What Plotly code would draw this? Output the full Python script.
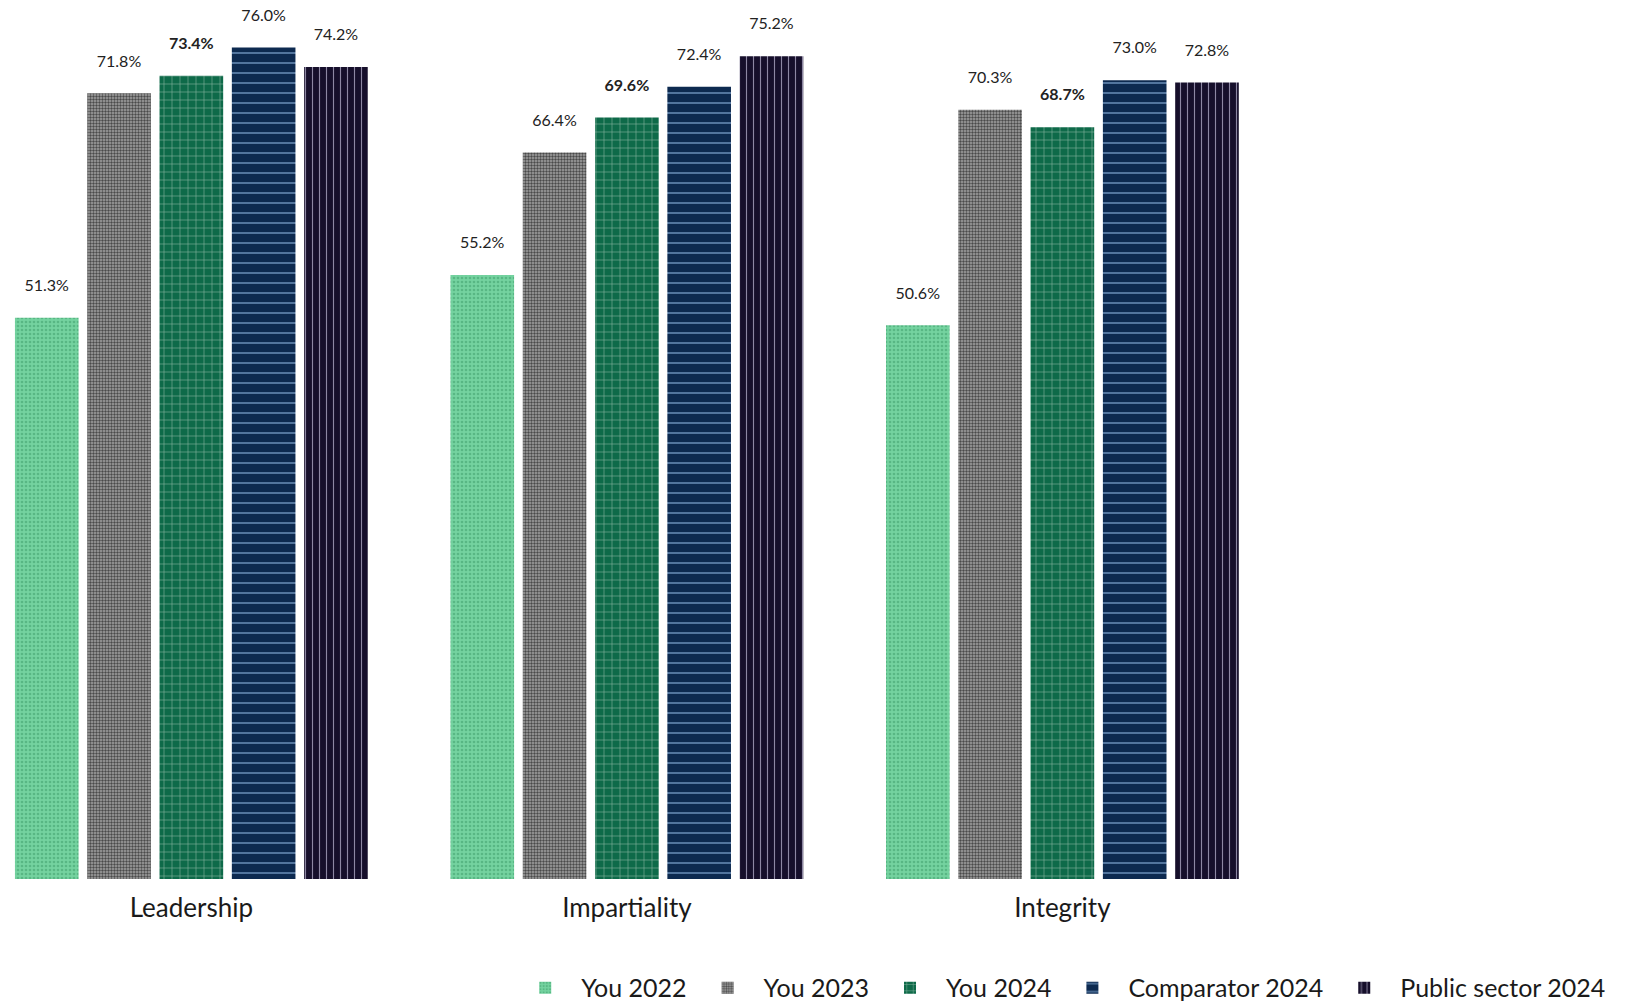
import plotly.graph_objects as go

# Categorias e series
categories = ["Leadership", "Impartiality", "Integrity"]
series_names = ["You 2022", "You 2023", "You 2024", "Comparator 2024", "Public sector 2024"]
you_2022 = [51.3, 55.2, 50.6]
you_2023 = [71.8, 66.4, 70.3]
you_2024 = [73.4, 69.6, 68.7]
comparator_2024 = [76.0, 72.4, 73.0]
public_sector_2024 = [74.2, 75.2, 72.8]
valores = [you_2022, you_2023, you_2024, comparator_2024, public_sector_2024]

# estilo de cada serie (fundo, cor do padrao, forma, tamanho, solidez)
estilos = [
    ("#74d3a0", "#58b784", ".", 4, 0.35),
    ("#a3a3a3", "#4a4a4a", ".", 3, 0.5),
    ("#0e6a49", "#85b39f", "+", 8, 0.14),
    ("#0d2a50", "#7096c0", "-", 10, 0.14),
    ("#160f2b", "#8d87a3", "|", 7, 0.16),
]

fig = go.Figure()
for i, (nome, vals) in enumerate(zip(series_names, valores)):
    bg, fg, shape, size, sol = estilos[i]
    label = "<b>%{y:.1f}%</b><br> " if nome == "You 2024" else "%{y:.1f}%<br> "
    fig.add_trace(go.Bar(
        x=categories, y=vals, name=nome,
        marker=dict(color=bg, line_width=0,
                    pattern=dict(shape=shape, bgcolor=bg, fgcolor=fg,
                                 size=size, solidity=sol, fillmode="replace")),
        texttemplate=label, textposition="outside", cliponaxis=False,
        textfont=dict(size=16, color="#222222"),
        hoverinfo="skip",
    ))

fig.update_layout(
    width=1638, height=1004,
    margin=dict(l=0, r=0, t=0, b=133),
    barmode="group", bargap=0.17, bargroupgap=0.12,
    plot_bgcolor="white", paper_bgcolor="white",
    font=dict(family="Lato, Noto Sans, sans-serif", color="#1a1a1a"),
    showlegend=True,
    legend=dict(orientation="h", x=0.306, xanchor="left", y=-0.125, yanchor="middle",
                font=dict(size=25), itemwidth=62, traceorder="normal"),
)
fig.update_xaxes(range=[-0.421, 3.34], showgrid=False, showline=False, zeroline=False,
                 ticks="", tickfont=dict(size=26, color="#1a1a1a"), ticklabelstandoff=11)
fig.update_yaxes(range=[0, 79.6], visible=False, showgrid=False)

fig.write_html("out.html")
